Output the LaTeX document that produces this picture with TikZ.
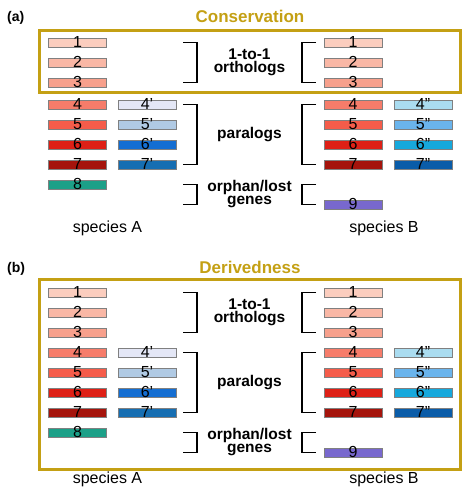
\documentclass[tikz,border=0pt]{standalone}
\usepackage{fontspec}
\setmainfont{Liberation Sans}
\usetikzlibrary{
  calc,
  positioning,
}
\definecolor{gold}{RGB}{196,160,20}
\definecolor{g1}{RGB}{251,205,190}
\definecolor{g2}{RGB}{249,183,165}
\definecolor{g3}{RGB}{247,160,140}
\definecolor{g4}{RGB}{246,124,106}
\definecolor{g5}{RGB}{245,92,74}
\definecolor{g6}{RGB}{222,32,22}
\definecolor{g7}{RGB}{165,20,12}
\definecolor{g8}{RGB}{28,160,136}
\definecolor{g9}{RGB}{120,104,206}
\definecolor{pa4}{RGB}{228,231,246}
\definecolor{pa5}{RGB}{176,202,228}
\definecolor{pa6}{RGB}{20,110,210}
\definecolor{pa7}{RGB}{22,110,178}
\definecolor{pb4}{RGB}{170,220,240}
\definecolor{pb5}{RGB}{106,180,236}
\definecolor{pb6}{RGB}{22,168,220}
\definecolor{pb7}{RGB}{10,92,168}
\tikzset{
  gene/.style 2 args={rectangle,draw=black!50,line width=0.5pt,fill=#1,
    minimum width=58,minimum height=9,inner sep=0,
    label={[anchor=base,inner sep=0,font=\fontsize{16}{16}\selectfont]south:#2}},
  bracket/.style={line width=1.8pt},
  group/.style={font=\bfseries\fontsize{15.5}{13}\selectfont,align=center,inner sep=0},
  frame/.style={draw=gold,line width=3pt},
}

\begin{document}
\begin{tikzpicture}[x=1pt,y=-1pt]
  \useasboundingbox (0,0) rectangle (471,500);

  \coordinate (lbr) at (197,0);
  \coordinate (rbr) at (302,0);
  \coordinate (mid) at (249.5,0);

  \draw[frame] (39.5,30.5) rectangle (460,92.5);
  \node[font=\bfseries\fontsize{17}{17}\selectfont,text=gold,anchor=base] (cons) at (250,23) {Conservation};
  \node[font=\bfseries\fontsize{14}{14}\selectfont,anchor=base west,inner sep=0] (pa) at (7,22) {(a)};

  \draw[frame] (39.5,279.5) rectangle (460.5,469.5);
  \node[font=\bfseries\fontsize{17}{17}\selectfont,text=gold,anchor=base] (deriv) at (250,273) {Derivedness};
  \node[font=\bfseries\fontsize{14}{14}\selectfont,anchor=base west,inner sep=0] (pb) at (7,272) {(b)};

  \foreach \p/\oy/\gap/\sy in {a/0/2/232,b/250/0/483} {
    \foreach \i in {1,...,9} {
      \pgfmathsetmacro\yy{\oy+42.5+20*(\i-1)+(\i>3)*\gap}
      \ifnum\i<9 \node[gene={g\i}{\i}] (\p A\i) at (77.5,\yy) {}; \fi
      \ifnum\i=8 \else \node[gene={g\i}{\i}] (\p B\i) at (353,\yy) {}; \fi
      \ifnum\i>3 \ifnum\i<8
        \node[gene={pa\i}{\i’}] (\p Ap\i) at (147,\yy) {};
        \node[gene={pb\i}{\i”}] (\p Bp\i) at (423,\yy) {};
      \fi\fi
    }

    % brackets
    \draw[bracket] (lbr |- \p B1) ++(-14,0) -- ++(14,0) -- (lbr |- \p B3) -- ++(-14,0);
    \draw[bracket] (lbr |- \p B4) ++(-14,0) -- ++(14,0) -- (lbr |- \p B7) -- ++(-14,0);
    \draw[bracket] (lbr |- \p A8) ++(-14,0) -- ++(14,0) -- (lbr |- \p B9) -- ++(-14,0);
    \draw[bracket] (rbr |- \p B1) ++(14,0) -- ++(-14,0) -- (rbr |- \p B3) -- ++(14,0);
    \draw[bracket] (rbr |- \p B4) ++(14,0) -- ++(-14,0) -- (rbr |- \p B7) -- ++(14,0);
    \draw[bracket] (rbr |- \p A8) ++(14,0) -- ++(-14,0) -- (rbr |- \p B9) -- ++(14,0);

    \node[group] (\p orth) at (mid |- \p B2) {1-to-1\\orthologs};
    \node[group] (\p para) at ($(mid |- \p B4)!.5!(mid |- \p B7)$) {paralogs};
    \node[group] (\p orph) at ($(mid |- \p A8)!.5!(mid |- \p B9)$) {orphan/lost\\genes};

    \node[font=\fontsize{16}{16}\selectfont,anchor=base] (\p spA) at (107.5,\sy) {species A};
    \node[font=\fontsize{16}{16}\selectfont,anchor=base] (\p spB) at (384,\sy) {species B};
  }

\end{tikzpicture}
\end{document}
